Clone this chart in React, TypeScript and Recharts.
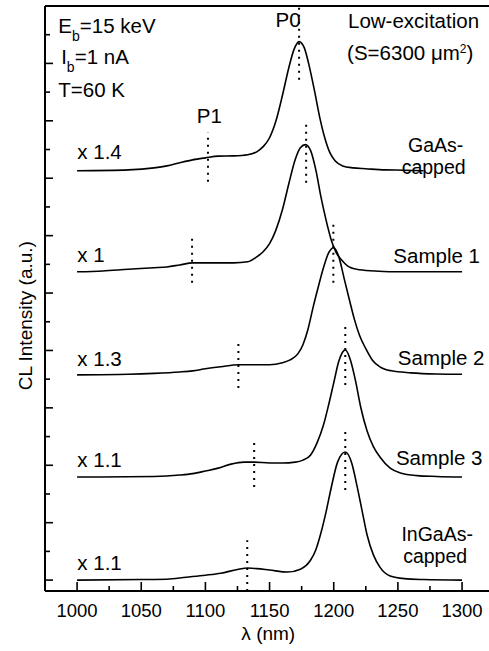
import React from 'react';
import { LineChart, Line, XAxis, YAxis, ReferenceLine, ReferenceDot } from 'recharts';

const FONT = '"Liberation Sans", Arial, Helvetica, sans-serif';

// Wavelength (nm) and CL intensity (a.u., relative to each spectrum's own baseline)
const gaasWl = [1000, 1040, 1060, 1070, 1080, 1090, 1100, 1110, 1122, 1133, 1140, 1145, 1150, 1155, 1160, 1165, 1169, 1173, 1177, 1181, 1185, 1189, 1193, 1197, 1201, 1207, 1215, 1225, 1240, 1255, 1270];
const gaasI = [0, 0.03, 0.10, 0.17, 0.28, 0.38, 0.45, 0.51, 0.52, 0.56, 0.66, 0.84, 1.15, 1.74, 2.62, 3.59, 4.22, 4.50, 4.29, 3.63, 2.79, 1.88, 1.15, 0.63, 0.35, 0.17, 0.10, 0.07, 0.03, 0.02, 0];

const s1Wl = [1000, 1020, 1040, 1060, 1070, 1080, 1090, 1100, 1110, 1122, 1133, 1140, 1145, 1150, 1155, 1160, 1165, 1170, 1174, 1178, 1182, 1186, 1190, 1194, 1198, 1202, 1206, 1212, 1220, 1235, 1250, 1270, 1300];
const s1I = [0, 0.03, 0.09, 0.14, 0.17, 0.24, 0.31, 0.31, 0.31, 0.31, 0.35, 0.52, 0.70, 0.98, 1.46, 2.16, 3.07, 3.91, 4.32, 4.43, 4.22, 3.56, 2.62, 1.81, 1.12, 0.66, 0.42, 0.17, 0.07, 0.02, 0, 0, 0];

const s2Wl = [1000, 1040, 1060, 1080, 1090, 1100, 1112, 1126, 1140, 1150, 1160, 1166, 1172, 1176, 1180, 1184, 1188, 1192, 1196, 1200, 1204, 1208, 1212, 1216, 1220, 1225, 1230, 1236, 1245, 1260, 1280, 1300];
const s2I = [0, 0.02, 0.05, 0.10, 0.14, 0.21, 0.28, 0.35, 0.35, 0.35, 0.42, 0.52, 0.73, 1.05, 1.60, 2.37, 3.07, 3.73, 4.25, 4.43, 4.11, 3.38, 2.65, 1.95, 1.39, 0.91, 0.52, 0.28, 0.14, 0.07, 0.03, 0.02];

const s3Wl = [1000, 1060, 1080, 1090, 1100, 1110, 1120, 1130, 1138, 1150, 1160, 1170, 1176, 1182, 1187, 1192, 1196, 1200, 1204, 1209, 1213, 1217, 1221, 1226, 1231, 1236, 1244, 1252, 1265, 1280, 1300];
const s3I = [0, 0.02, 0.07, 0.12, 0.21, 0.31, 0.45, 0.52, 0.52, 0.49, 0.49, 0.52, 0.59, 0.77, 1.19, 1.81, 2.51, 3.28, 4.04, 4.43, 4.08, 3.35, 2.44, 1.60, 1.05, 0.70, 0.31, 0.14, 0.05, 0.02, 0];

const ingaasWl = [1000, 1050, 1070, 1085, 1100, 1112, 1125, 1133, 1140, 1150, 1164, 1174, 1182, 1186, 1190, 1194, 1198, 1203, 1209, 1214, 1218, 1222, 1226, 1231, 1236, 1244, 1255, 1270, 1300];
const ingaasI = [0, 0.02, 0.03, 0.10, 0.17, 0.24, 0.37, 0.42, 0.40, 0.35, 0.28, 0.38, 0.70, 1.05, 1.64, 2.37, 3.21, 4.11, 4.46, 4.08, 3.31, 2.44, 1.57, 0.87, 0.45, 0.14, 0.05, 0.02, 0];

// vertical offsets of the stacked spectra (a.u.)
const offsets = [14.26, 10.74, 7.15, 3.59, 0];

// peak markers: wavelength and the extent (relative to the baseline) of the dotted line
const p0Wl = [1173, 1178.5, 1199.7, 1209, 1209];
const p0Lo = [3.17, 3.1, 3.21, 3.21, 3.14];
const p0Hi = [5.72, 5.3, 5.3, 5.3, 5.3];
const p1Wl = [1102, 1089.6, 1125.7, 1138, 1132.6];
const p1Lo = [-0.38, -0.38, -0.46, -0.35, -0.38];
const p1Hi = [1.33, 1.22, 1.15, 1.36, 1.39];

const xTicks = [1000, 1025, 1050, 1075, 1100, 1125, 1150, 1175, 1200, 1225, 1250, 1275, 1300];
const yTicks = [0, 1, 2, 3, 4, 5, 6, 7, 8, 9, 10, 11, 12, 13, 14, 15, 16, 17, 18, 19];

const spectraWl = [gaasWl, s1Wl, s2Wl, s3Wl, ingaasWl];
const spectraI = [gaasI, s1I, s2I, s3I, ingaasI];

const XTick = (props: any) => {
  const { x, y, payload } = props;
  const v = payload.value;
  const major = v % 50 === 0;
  return (
    <g>
      <line x1={x} x2={x} y1={y} y2={y - (major ? 9 : 5)} stroke="#000" strokeWidth={1.6} />
      {major && (
        <text x={x} y={y + 25.5} textAnchor="middle" fontSize={18.5} fontFamily={FONT} fill="#000">
          {v}
        </text>
      )}
    </g>
  );
};

const YTick = (props: any) => {
  const { x, y, payload } = props;
  const major = payload.value % 2 === 0;
  return <line x1={x} x2={x + (major ? 8 : 5)} y1={y} y2={y} stroke="#000" strokeWidth={1.6} />;
};

function ann(key: string, x: number, y: number, render: (px: number, py: number) => React.ReactElement) {
  return (
    <ReferenceDot
      key={key}
      x={x}
      y={y}
      r={0}
      fill="none"
      stroke="none"
      ifOverflow="visible"
      label={(p: any) => {
        const vb = p.viewBox || {};
        const px = (vb.x || 0) + (vb.width || 0) / 2;
        const py = (vb.y || 0) + (vb.height || 0) / 2;
        return render(px, py);
      }}
    />
  );
}

const FS = 20.5;
const txt = (s: string, anchor: 'start' | 'middle' | 'end' = 'start', size: number = FS) => (px: number, py: number) => (
  <text x={px} y={py} textAnchor={anchor} fontSize={size} fontFamily={FONT} fill="#000">
    {s}
  </text>
);
const txt2 = (a: string, b: string, gap: number) => (px: number, py: number) => (
  <text x={px} y={py} textAnchor="middle" fontSize={19.5} fontFamily={FONT} fill="#000">
    <tspan x={px}>{a}</tspan>
    <tspan x={px - 2} dy={gap}>{b}</tspan>
  </text>
);

export default function App() {
  return (
    <div style={{ position: 'absolute', left: 0, top: 0, width: 489, height: 651, background: '#fff' }}>
      <LineChart width={489} height={651} margin={{ top: 6, right: 0, bottom: 0, left: 0 }}>
        <XAxis
          type="number"
          dataKey="x"
          domain={[975, 1321]}
          ticks={xTicks}
          interval={0}
          allowDataOverflow
          height={60}
          tickLine={false}
          tickSize={0}
          tickMargin={0}
          axisLine={{ stroke: '#000', strokeWidth: 2 }}
          tick={XTick}
        />
        <YAxis
          type="number"
          dataKey="y"
          domain={[-0.38, 20]}
          ticks={yTicks}
          interval={0}
          allowDataOverflow
          width={45}
          tickLine={false}
          tickSize={0}
          tickMargin={0}
          axisLine={{ stroke: '#000', strokeWidth: 2 }}
          tick={YTick}
        />
        <ReferenceLine y={20} stroke="#000" strokeWidth={2} />
        {spectraWl.map((wl, i) => (
          <Line
            key={'s' + i}
            data={wl.map((w, j) => ({ x: w, y: spectraI[i][j] + offsets[i] }))}
            dataKey="y"
            type="monotone"
            stroke="#000"
            strokeWidth={1.6}
            dot={false}
            isAnimationActive={false}
          />
        ))}
        {p0Wl.map((w, i) => (
          <ReferenceLine
            key={'p0' + i}
            segment={[{ x: w, y: offsets[i] + p0Lo[i] }, { x: w, y: offsets[i] + p0Hi[i] }]}
            stroke="#000"
            strokeWidth={2}
            strokeDasharray="2 5"
            ifOverflow="visible"
          />
        ))}
        {p1Wl.map((w, i) => (
          <ReferenceLine
            key={'p1' + i}
            segment={[{ x: w, y: offsets[i] + p1Lo[i] }, { x: w, y: offsets[i] + p1Hi[i] }]}
            stroke="#000"
            strokeWidth={2}
            strokeDasharray="2 5"
            ifOverflow="visible"
          />
        ))}
        {ann('eb', 985.4, 19.07, (px, py) => (
          <text x={px} y={py} fontSize={FS} fontFamily={FONT} fill="#000">
            <tspan>E</tspan>
            <tspan fontSize={14} dy={8}>b</tspan>
            <tspan dy={-8}>=15 keV</tspan>
          </text>
        ))}
        {ann('ib', 987.6, 17.99, (px, py) => (
          <text x={px} y={py} fontSize={FS} fontFamily={FONT} fill="#000">
            <tspan>I</tspan>
            <tspan fontSize={14} dy={8}>b</tspan>
            <tspan dy={-8}>=1 nA</tspan>
          </text>
        ))}
        {ann('t', 985.4, 16.84, txt('T=60 K'))}
        {ann('p1', 1103.1, 15.93, txt('P1', 'middle'))}
        {ann('p0', 1164.4, 19.28, txt('P0', 'middle'))}
        {ann('low', 1262.2, 19.25, txt('Low-excitation', 'middle'))}
        {ann('s', 1259.6, 18.13, (px, py) => (
          <text x={px} y={py} textAnchor="middle" fontSize={FS} fontFamily={FONT} fill="#000">
            <tspan>(S=6300 μm</tspan>
            <tspan fontSize={12} dy={-7}>2</tspan>
            <tspan dy={7}>)</tspan>
          </text>
        ))}
        {ann('g', 1279.4, 14.92, txt2('GaAs-', 'capped', 22))}
        {ann('sa1', 1280.2, 11.05, txt('Sample 1', 'middle'))}
        {ann('sa2', 1283.7, 7.5, txt('Sample 2', 'middle'))}
        {ann('sa3', 1282.2, 4.01, txt('Sample 3', 'middle'))}
        {ann('i', 1280.6, 1.36, txt2('InGaAs-', 'capped', 22))}
        {ann('m0', 1000.2, 14.68, txt('x 1.4'))}
        {ann('m1', 1000.2, 11.09, txt('x 1'))}
        {ann('m2', 1000.2, 7.46, txt('x 1.3'))}
        {ann('m3', 1000.2, 3.94, txt('x 1.1'))}
        {ann('m4', 1000.2, 0.35, txt('x 1.1'))}
        {ann('xl', 1149, -2.1, txt('λ (nm)', 'middle', 19))}
        {ann('yl', 959.7, 9.21, (px, py) => (
          <text
            x={px}
            y={py}
            transform={`rotate(-90, ${px}, ${py})`}
            textAnchor="middle"
            dominantBaseline="central"
            fontSize={19}
            fontFamily={FONT}
            fill="#000"
          >
            CL Intensity (a.u.)
          </text>
        ))}
      </LineChart>
    </div>
  );
}
